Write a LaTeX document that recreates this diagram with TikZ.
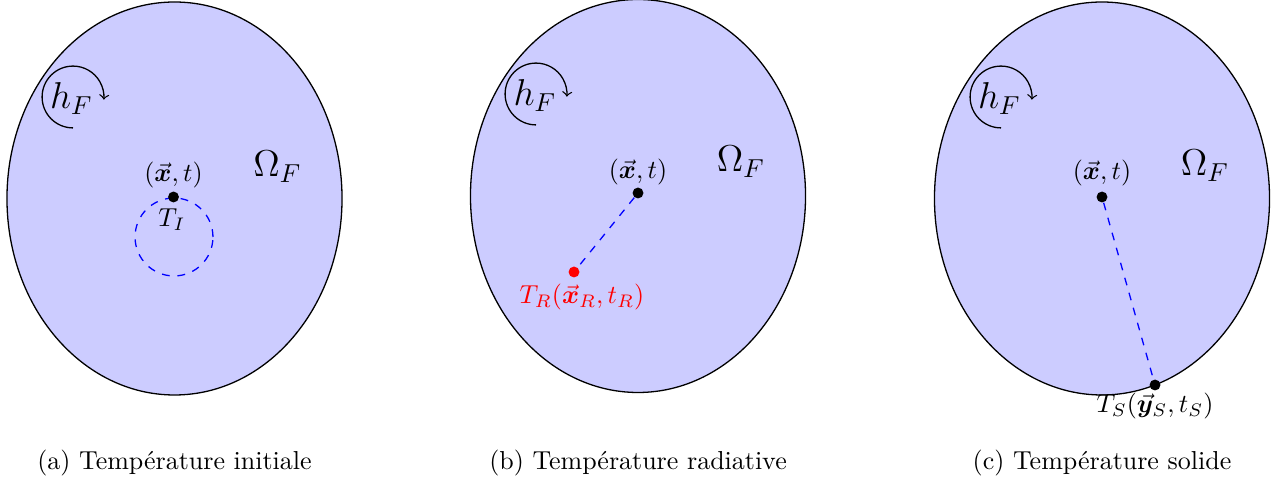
\documentclass[tikz,border=0pt]{standalone}
\usepackage{amsmath}
\usepackage{bm}
\usepackage{fontspec}
\begin{document}
\begin{tikzpicture}[x=0.385pt,y=0.385pt,
  regionfill/.style={fill=blue!20,draw=black,line width=0.5pt},
  dotnode/.style={circle,fill=#1,inner sep=0pt,minimum size=4.2pt},
  dotnode/.default=black,
  bigmath/.style={font=\Large,inner sep=0pt},
  lbl/.style={inner sep=0pt},
  link/.style={blue,dashed,line width=0.5pt},
  swirl/.style={->,line width=0.5pt},
  captext/.style={inner sep=0pt}]
\useasboundingbox (0,0) rectangle (1288,-482);

% ---------- (a) ----------
\begin{scope}[shift={(174.5,-198.5)}]
  \coordinate (ca) at (0,0);
  \draw[regionfill] (ca) ellipse [x radius=64.5pt, y radius=75.65pt];
  \node[bigmath] (oa) at (103,32) {$\Omega_F$};
  \coordinate (hca) at (-101.5,101.5);
  \node[bigmath] (ha) at (-103,100) {$h_F$};
  \draw[swirl] ([yshift=-11.9pt]hca) arc[start angle=270,end angle=-5,radius=11.9pt];
  \coordinate (cira) at (-0.5,-38.5);
  \draw[link] (cira) circle[radius=15pt];
  \node[dotnode] (pa) at (-1,1.5) {};
  \node[lbl] (xa) at (-1,23.5) {$(\vec{\bm x},t)$};
  \node[lbl] (tia) at (-2.5,-21.5) {$T_I$};
\end{scope}

% ---------- (b) ----------
\begin{scope}[shift={(638,-196)}]
  \coordinate (cb) at (0,0);
  \draw[regionfill] (cb) ellipse [x radius=64.5pt, y radius=75.65pt];
  \node[bigmath] (ob) at (103,34) {$\Omega_F$};
  \coordinate (hcb) at (-102,102);
  \node[bigmath] (hb) at (-103,100.5) {$h_F$};
  \draw[swirl] ([yshift=-11.9pt]hcb) arc[start angle=270,end angle=-5,radius=11.9pt];
  \node[dotnode] (pb) at (0,3) {};
  \node[dotnode=red] (rb) at (-64,-76) {};
  \draw[link] (pb) -- (rb);
  \node[lbl] (xb) at (0,24) {$(\vec{\bm x},t)$};
  \node[lbl,text=red] (trb) at (-56,-101) {$T_R(\vec{\bm x}_R,t_R)$};
\end{scope}

% ---------- (c) ----------
\begin{scope}[shift={(1102,-198.5)}]
  \coordinate (cc) at (0,0);
  \draw[regionfill] (cc) ellipse [x radius=64.5pt, y radius=75.65pt];
  \node[bigmath] (oc) at (103,32.5) {$\Omega_F$};
  \coordinate (hcc) at (-101,101.5);
  \node[bigmath] (hc) at (-102.5,100) {$h_F$};
  \draw[swirl] ([yshift=-11.9pt]hcc) arc[start angle=270,end angle=-5,radius=11.9pt];
  \node[dotnode] (pc) at (0,1.5) {};
  \node[dotnode] (sc) at (53,-186.5) {};
  \draw[link] (pc) -- (sc);
  \node[lbl] (xc) at (0,25.5) {$(\vec{\bm x},t)$};
  \node[lbl] (tsc) at (53,-207.5) {$T_S(\vec{\bm y}_S,t_S)$};
\end{scope}

% ---------- captions ----------
\node[captext] (capa) at (174.5,-463) {(a) Température initiale};
\node[captext] (capb) at (638,-463) {(b) Température radiative};
\node[captext] (capc) at (1102,-463) {(c) Température solide};
\end{tikzpicture}
\end{document}
